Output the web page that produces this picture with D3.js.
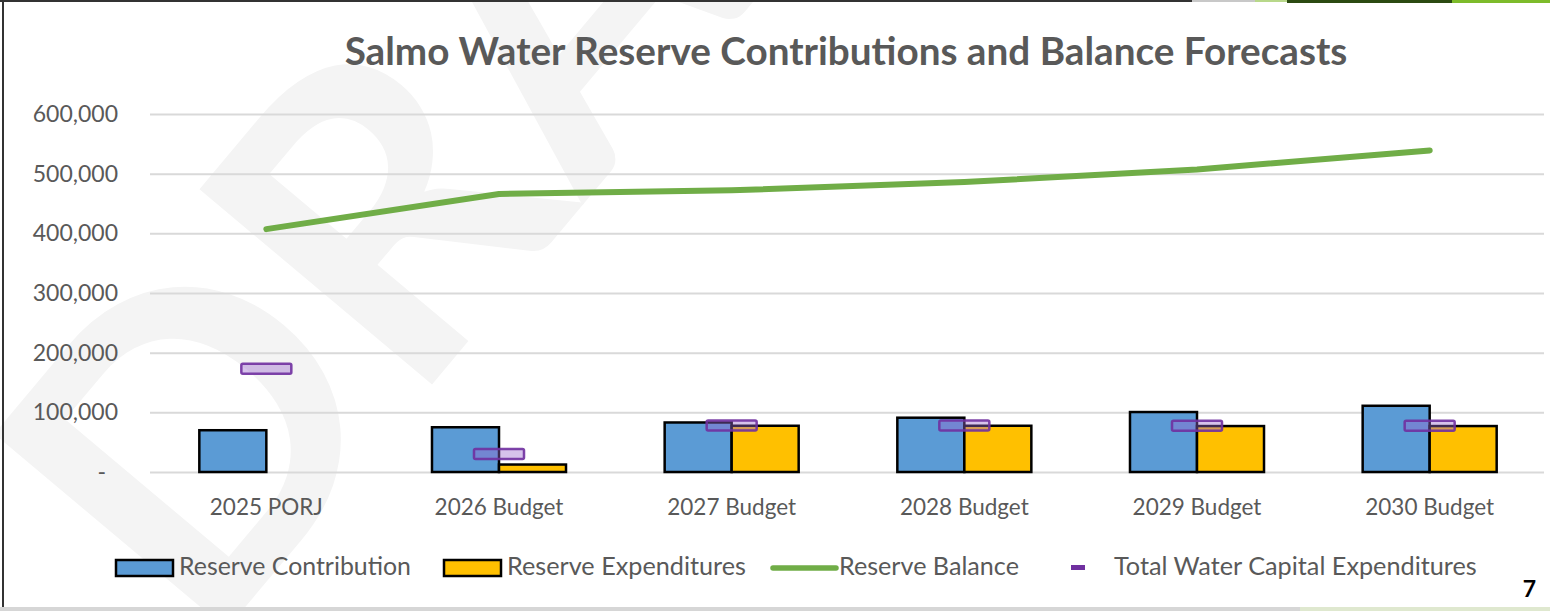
<!DOCTYPE html>
<html>
<head>
<meta charset="utf-8">
<script src="https://cdn.jsdelivr.net/npm/d3@7/dist/d3.min.js"></script>
<style>
  html, body { margin: 0; padding: 0; background: #fff; }
  svg { display: block; }
  text { font-family: Lato, "Open Sans", sans-serif; }
</style>
</head>
<body>
<svg id="chart" width="1550" height="611"></svg>
<script>
// Salmo water reserve forecasts
const categories = ["2025 PORJ", "2026 Budget", "2027 Budget", "2028 Budget", "2029 Budget", "2030 Budget"];
const reserveContribution = [70000, 75000, 83000, 91000, 100500, 111000];
const reserveExpenditures = [0, 12500, 77500, 77500, 77000, 77000];
const reserveBalance = [407000, 466000, 472000, 486000, 507000, 539000];
const capitalExpenditures = [173000, 30000, 78000, 78000, 77500, 77500];
const yTickValues = [0, 100000, 200000, 300000, 400000, 500000, 600000];
const seriesNames = ["Reserve Contribution", "Reserve Expenditures", "Reserve Balance", "Total Water Capital Expenditures"];

const W = 1550, H = 611;
const margin = { left: 150, right: 4, top: 114, bottom: 139 };
const colors = { blue: "#5b9bd5", yellow: "#ffc000", green: "#70ad47", purple: "#7030a0", text: "#595959", grid: "#d9d9d9" };

const svg = d3.select("#chart");

// fit a text selection's font size so it spans a target width
function fitWidth(sel, target) {
  const node = sel.node();
  const fs = parseFloat(sel.attr("font-size"));
  const w = node.getComputedTextLength();
  if (w > 0) sel.attr("font-size", (fs * target / w).toFixed(2));
  return sel;
}

// page background
svg.append("rect").attr("x", 0).attr("y", 0).attr("width", W).attr("height", H).attr("fill", "#fff");

// DRAFT watermark
svg.append("text")
  .attr("transform", "translate(205,655) rotate(-50)")
  .attr("font-family", "'Liberation Sans', Arial, sans-serif")
  .attr("font-weight", "bold")
  .attr("font-size", 420)
  .attr("fill", "#f4f4f4")
  .text("DRAFT");

const x = d3.scaleBand()
  .domain(categories)
  .range([margin.left, W - margin.right])
  .paddingInner(0.424)
  .paddingOuter(0.212);

const xSub = d3.scaleBand()
  .domain(["contribution", "expenditures"])
  .range([0, x.bandwidth()]);

const y = d3.scaleLinear()
  .domain([0, 600000])
  .range([H - margin.bottom, margin.top]);

// y axis with gridlines
const yAxis = svg.append("g")
  .attr("transform", `translate(${margin.left},0)`)
  .call(d3.axisLeft(y)
    .tickValues(yTickValues)
    .tickSize(-(W - margin.right - margin.left - 2))
    .tickPadding(32)
    .tickFormat(d => d === 0 ? "-" : d3.format(",")(d)));
yAxis.select(".domain").remove();
yAxis.selectAll(".tick line").attr("stroke", colors.grid).attr("stroke-width", 2);
yAxis.selectAll(".tick text")
  .attr("fill", colors.text)
  .attr("font-size", 23)
  .attr("font-family", "Lato, sans-serif");
yAxis.selectAll(".tick text").filter(d => d === 0).attr("dx", -12);

// title
const title = svg.append("text")
  .attr("x", 846).attr("y", 65)
  .attr("text-anchor", "middle")
  .attr("font-weight", "bold")
  .attr("font-size", 34)
  .attr("fill", colors.text)
  .text("Salmo Water Reserve Contributions and Balance Forecasts");
fitWidth(title, 1003);

// x axis labels
const xAxis = svg.append("g")
  .attr("transform", `translate(0,${y(0)})`)
  .call(d3.axisBottom(x).tickSize(0).tickPadding(0));
xAxis.select(".domain").remove();
xAxis.selectAll(".tick text")
  .attr("fill", colors.text)
  .attr("font-size", 22.5)
  .attr("dy", 0)
  .attr("y", 43);

// bars
const groups = svg.append("g").selectAll("g")
  .data(categories)
  .join("g")
  .attr("transform", d => `translate(${x(d)},0)`);

groups.append("rect")
  .attr("x", xSub("contribution"))
  .attr("y", (d, i) => y(reserveContribution[i]))
  .attr("width", xSub.bandwidth())
  .attr("height", (d, i) => y(0) - y(reserveContribution[i]))
  .attr("fill", colors.blue)
  .attr("stroke", "#000")
  .attr("stroke-width", 2.5);

groups.filter((d, i) => reserveExpenditures[i] > 0).append("rect")
  .attr("x", xSub("expenditures"))
  .attr("y", d => y(reserveExpenditures[categories.indexOf(d)]))
  .attr("width", xSub.bandwidth())
  .attr("height", d => y(0) - y(reserveExpenditures[categories.indexOf(d)]))
  .attr("fill", colors.yellow)
  .attr("stroke", "#000")
  .attr("stroke-width", 2.5);

// reserve balance line
const line = d3.line()
  .x((d, i) => x(categories[i]) + x.bandwidth() / 2)
  .y(d => y(d));
svg.append("path")
  .datum(reserveBalance)
  .attr("d", line)
  .attr("fill", "none")
  .attr("stroke", colors.green)
  .attr("stroke-width", 6)
  .attr("stroke-linecap", "round")
  .attr("stroke-linejoin", "round");

// capital expenditure markers
const markW = 50, markH = 10;
svg.append("g").selectAll("rect")
  .data(capitalExpenditures)
  .join("rect")
  .attr("x", (d, i) => x(categories[i]) + x.bandwidth() / 2 - markW / 2)
  .attr("y", d => y(d) - markH / 2)
  .attr("width", markW)
  .attr("height", markH)
  .attr("rx", 1.5)
  .attr("fill", "#9966cc")
  .attr("fill-opacity", 0.4)
  .attr("stroke", colors.purple)
  .attr("stroke-opacity", 0.9)
  .attr("stroke-width", 2.5);

// legend
const legendY = 568;
const legendItems = [
  { name: seriesNames[0], type: "box", color: colors.blue, x0: 116, tx: 179, w: 232 },
  { name: seriesNames[1], type: "box", color: colors.yellow, x0: 444, tx: 507, w: 239 },
  { name: seriesNames[2], type: "line", color: colors.green, x0: 773, tx: 839, w: 180 },
  { name: seriesNames[3], type: "dash", color: colors.purple, x0: 1071, tx: 1114, w: 363 }
];
const legend = svg.append("g");
legendItems.forEach(it => {
  if (it.type === "box") {
    legend.append("rect")
      .attr("x", it.x0).attr("y", legendY - 8)
      .attr("width", 57).attr("height", 16)
      .attr("fill", it.color).attr("stroke", "#000").attr("stroke-width", 2.5);
  } else if (it.type === "line") {
    legend.append("line")
      .attr("x1", it.x0).attr("x2", it.x0 + 63)
      .attr("y1", legendY).attr("y2", legendY)
      .attr("stroke", it.color).attr("stroke-width", 5.5).attr("stroke-linecap", "round");
  } else {
    legend.append("rect")
      .attr("x", it.x0).attr("y", legendY - 3)
      .attr("width", 14).attr("height", 5)
      .attr("fill", it.color);
  }
  const t = legend.append("text")
    .attr("x", it.tx).attr("y", legendY + 7)
    .attr("font-size", 21)
    .attr("fill", colors.text)
    .text(it.name);
  fitWidth(t, it.w);
});

// page number
svg.append("text")
  .attr("x", 1536).attr("y", 597)
  .attr("text-anchor", "end")
  .attr("font-family", "'Liberation Sans', Arial, sans-serif")
  .attr("font-weight", "bold")
  .attr("font-size", 23)
  .attr("fill", "#000")
  .text("7");

// frame edges
svg.append("rect").attr("x", 0).attr("y", 0).attr("width", 1192).attr("height", 2).attr("fill", "#333");
svg.append("rect").attr("x", 1192).attr("y", 0).attr("width", 95).attr("height", 2).attr("fill", "#c8c8c8");
svg.append("rect").attr("x", 1255).attr("y", 0).attr("width", 32).attr("height", 2).attr("fill", "#b8d88a");
svg.append("rect").attr("x", 1287).attr("y", 0).attr("width", 165).attr("height", 3).attr("fill", "#2b4a12");
svg.append("rect").attr("x", 1452).attr("y", 0).attr("width", 98).attr("height", 3).attr("fill", "#7dbb2a");
svg.append("rect").attr("x", 2).attr("y", 0).attr("width", 2).attr("height", 608).attr("fill", "#333");
svg.append("rect").attr("x", 0).attr("y", 607).attr("width", W).attr("height", 4).attr("fill", "#d6d6d6");
svg.append("rect").attr("x", 1300).attr("y", 607).attr("width", 250).attr("height", 4).attr("fill", "#dfe8cf");
</script>
</body>
</html>
